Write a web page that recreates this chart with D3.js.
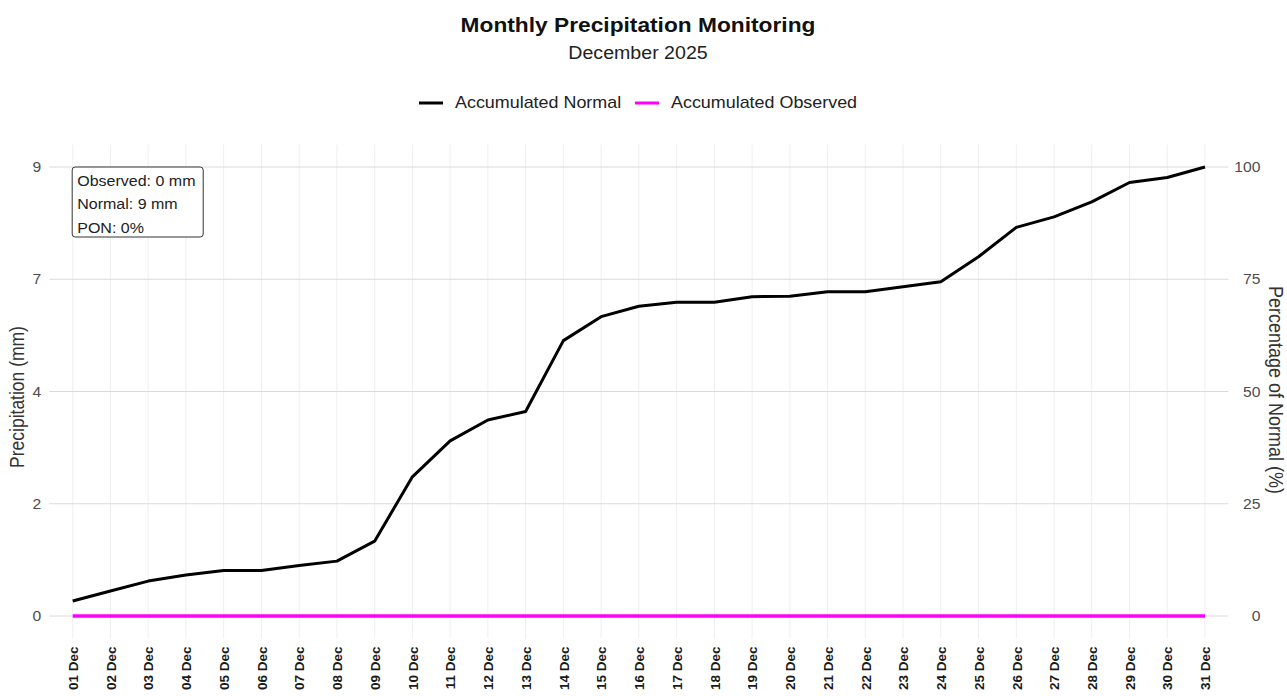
<!DOCTYPE html>
<html>
<head>
<meta charset="utf-8">
<script src="https://cdn.jsdelivr.net/npm/d3@7"></script>
<style>
  html, body { margin: 0; padding: 0; background: #ffffff; }
  svg { display: block; }
  text { font-family: "Liberation Sans", Arial, Helvetica, sans-serif; }
</style>
</head>
<body>
<svg id="chart" width="1287" height="696"></svg>
<script>
// ---------------- data ----------------
const days = ["01 Dec","02 Dec","03 Dec","04 Dec","05 Dec","06 Dec","07 Dec","08 Dec","09 Dec","10 Dec",
              "11 Dec","12 Dec","13 Dec","14 Dec","15 Dec","16 Dec","17 Dec","18 Dec","19 Dec","20 Dec",
              "21 Dec","22 Dec","23 Dec","24 Dec","25 Dec","26 Dec","27 Dec","28 Dec","29 Dec","30 Dec","31 Dec"];
const accumulatedNormal = [0.30,0.50,0.70,0.82,0.91,0.91,1.01,1.10,1.50,2.79,
                           3.51,3.93,4.10,5.52,6.00,6.21,6.29,6.29,6.40,6.41,
                           6.50,6.50,6.60,6.70,7.20,7.79,8.00,8.30,8.69,8.79,9.00];
const accumulatedObserved = [0,0,0,0,0,0,0,0,0,0,
                             0,0,0,0,0,0,0,0,0,0,
                             0,0,0,0,0,0,0,0,0,0,0];
const leftTickValues = [0, 2.25, 4.5, 6.75, 9];
const leftTickLabels = ["0", "2", "4", "7", "9"];
const rightTickValues = [0, 25, 50, 75, 100];
const rightTickLabels = ["0", "25", "50", "75", "100"];
const seriesNames = ["Accumulated Normal", "Accumulated Observed"];
const seriesColors = ["#000000", "#ff00ff"];
const annotationLines = ["Observed: 0 mm", "Normal: 9 mm", "PON: 0%"];
const titleText = "Monthly Precipitation Monitoring";
const subtitleText = "December 2025";
const yTitleLeft = "Precipitation (mm)";
const yTitleRight = "Percentage of Normal (%)";
const normalTotal = 9;

// ---------------- layout ----------------
const SX = 1.12; // horizontal text stretch of the reference
const svg = d3.select("#chart");

const x = d3.scaleLinear().domain([0, days.length - 1]).range([72.7, 1205]);
const y = d3.scaleLinear().domain([0, normalTotal]).range([616, 167]);
const yPct = d3.scaleLinear().domain([0, 100]).range([616, 167]);

const padX = 0.62, padY = 0.45;
const panelL = x(-padX), panelR = x(days.length - 1 + padX);
const panelT = y(normalTotal + padY), panelB = y(-padY);

function hText(g, px, py, txt, size, opts = {}) {
  const t = g.append("text")
    .attr("transform", `translate(${px},${py}) scale(${opts.sx || SX},1)` + (opts.rotate ? ` rotate(${opts.rotate})` : ""))
    .attr("font-size", size)
    .attr("fill", opts.fill || "#000")
    .attr("font-weight", opts.weight || "normal")
    .attr("text-anchor", opts.anchor || "start")
    .text(txt);
  if (opts.baseline) t.attr("dominant-baseline", opts.baseline);
  return t;
}

// ---------------- grid ----------------
const grid = svg.append("g");
grid.selectAll("line.v").data(days).join("line")
  .attr("class", "v")
  .attr("x1", (d, i) => x(i)).attr("x2", (d, i) => x(i))
  .attr("y1", panelT).attr("y2", panelB)
  .attr("stroke", "#efefef").attr("stroke-width", 1);
grid.selectAll("line.h").data(leftTickValues).join("line")
  .attr("class", "h")
  .attr("x1", panelL).attr("x2", panelR)
  .attr("y1", d => y(d)).attr("y2", d => y(d))
  .attr("stroke", "#dadada").attr("stroke-width", 1);

// ---------------- axes (labels only, ggplot minimal style) ----------------
const leftAxis = d3.axisLeft(y).tickValues(leftTickValues).tickFormat((d, i) => leftTickLabels[i]).tickSize(0);
const rightAxis = d3.axisRight(yPct).tickValues(rightTickValues).tickFormat((d, i) => rightTickLabels[i]).tickSize(0);
const bottomAxis = d3.axisBottom(x).tickValues(d3.range(days.length)).tickFormat(i => days[i]).tickSize(0);

const gL = svg.append("g").attr("transform", `translate(${panelL},0)`).call(leftAxis);
gL.select(".domain").remove();
gL.selectAll("text").remove();
gL.selectAll(".tick").each(function(d, i) {
  hText(d3.select(this), -8, 0, leftTickLabels[i], 14, { anchor: "end", fill: "#4d4d4d", baseline: "central" });
});

const gR = svg.append("g").attr("transform", `translate(${panelR},0)`).call(rightAxis);
gR.select(".domain").remove();
gR.selectAll("text").remove();
gR.selectAll(".tick").each(function(d, i) {
  hText(d3.select(this), 32, 0, rightTickLabels[i], 14, { anchor: "end", fill: "#4d4d4d", baseline: "central" });
});

const gB = svg.append("g").attr("transform", `translate(0,${panelB})`).call(bottomAxis);
gB.select(".domain").remove();
gB.selectAll("text")
  .attr("transform", "translate(0,8) rotate(-90)")
  .attr("x", 0).attr("y", 0).attr("dy", "0.35em")
  .attr("text-anchor", "end")
  .attr("font-size", 13.5)
  .attr("font-weight", "bold")
  .attr("fill", "#1a1a1a")
  .attr("font-family", "Liberation Sans, Arial, sans-serif");

// axis titles
hText(svg, 17, 397, yTitleLeft, 17.5, { anchor: "middle", fill: "#333", rotate: -90, baseline: "central" });
hText(svg, 1276, 390, yTitleRight, 18, { anchor: "middle", fill: "#333", rotate: 90, baseline: "central" });

// ---------------- lines ----------------
const line = d3.line().x((d, i) => x(i)).y(d => y(d));
svg.append("path").datum(accumulatedObserved)
  .attr("d", line).attr("fill", "none")
  .attr("stroke", seriesColors[1]).attr("stroke-width", 3.5);
svg.append("path").datum(accumulatedNormal)
  .attr("d", line).attr("fill", "none")
  .attr("stroke", seriesColors[0]).attr("stroke-width", 3)
  .attr("stroke-linejoin", "round");

// ---------------- annotation label ----------------
const ann = svg.append("g");
ann.append("rect")
  .attr("x", x(0) - 0.5).attr("y", y(normalTotal))
  .attr("width", 131).attr("height", 70)
  .attr("rx", 3).attr("ry", 3)
  .attr("fill", "#fff").attr("stroke", "#333").attr("stroke-width", 1);
annotationLines.forEach((t, i) => {
  hText(ann, x(0) + 4.5, y(normalTotal) + 18.5 + i * 23.5, t, 14.3, { fill: "#222" });
});

// ---------------- title ----------------
hText(svg, 638, 32, titleText, 20.3, { anchor: "middle", weight: "bold", fill: "#111" });
hText(svg, 638, 59, subtitleText, 17.5, { anchor: "middle", fill: "#222" });

// ---------------- legend ----------------
const legend = svg.append("g");
const legendItems = [
  { name: seriesNames[0], color: seriesColors[0], kx: 419 },
  { name: seriesNames[1], color: seriesColors[1], kx: 635 }
];
legendItems.forEach(it => {
  legend.append("line")
    .attr("x1", it.kx).attr("x2", it.kx + 24)
    .attr("y1", 103).attr("y2", 103)
    .attr("stroke", it.color).attr("stroke-width", 3);
  hText(legend, it.kx + 36, 103, it.name, 16, { fill: "#222", baseline: "central" });
});
</script>
</body>
</html>
